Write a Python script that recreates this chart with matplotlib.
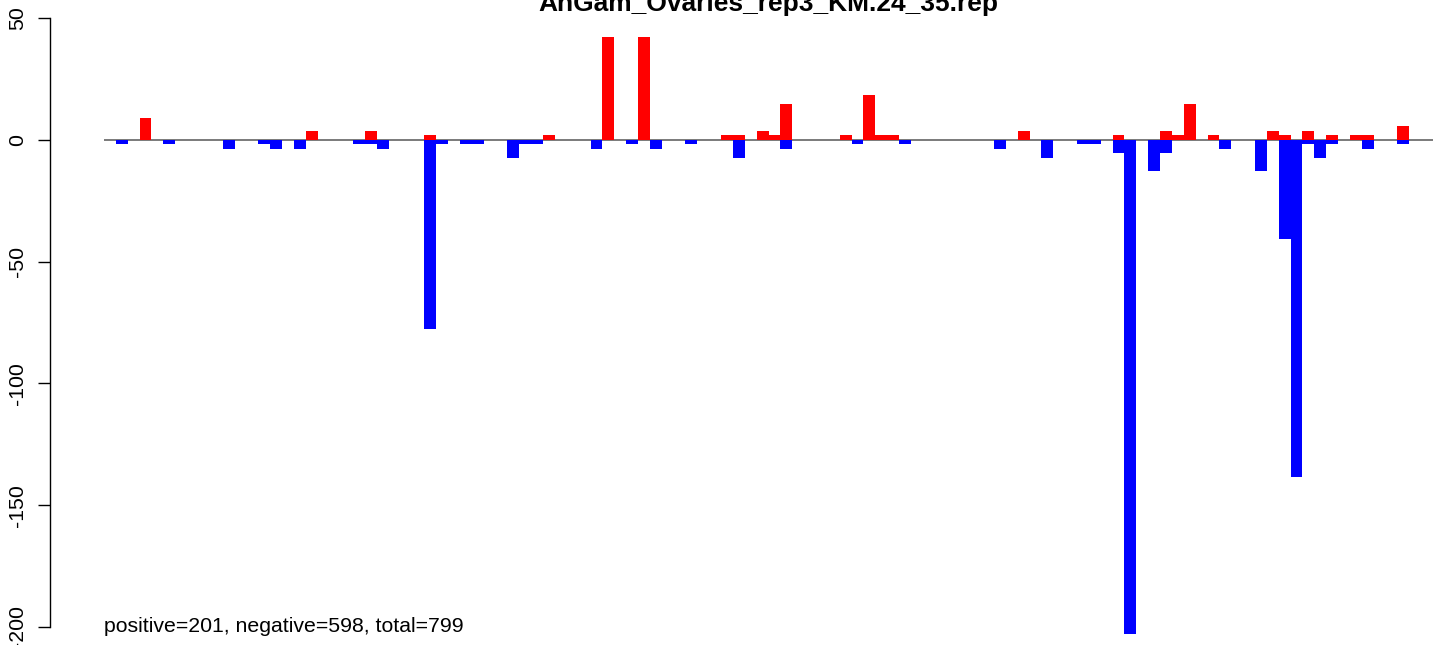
import matplotlib
matplotlib.use("Agg")
import matplotlib.pyplot as plt

plt.rcParams['font.family'] = ['Liberation Sans', 'DejaVu Sans']
plt.rcParams['axes.unicode_minus'] = False

title = "AnGam_Ovaries_rep3_KM.24_35.rep"
note = "positive=201, negative=598, total=799"

# slot index of each bar and its height
pos_idx = [2, 16, 21, 26, 36, 41, 44, 51, 52, 54, 55, 56, 61, 63, 64, 65,
           76, 84, 88, 89, 90, 92, 97, 98, 100, 102, 104, 105, 108]
pos_val = [9.1, 3.7, 3.7, 1.8, 1.8, 42.2, 42.2, 1.8, 1.8, 3.7, 1.8, 14.8, 1.8, 18.5, 1.8, 1.8,
           3.7, 1.8, 3.7, 1.8, 14.8, 1.8, 3.7, 1.8, 3.7, 1.8, 1.8, 1.8, 5.5]

neg_idx = [0, 4, 9, 12, 13, 15, 20, 21, 22, 26, 27, 29, 30, 33, 34, 35,
           40, 43, 45, 48, 52, 56, 62, 66, 74, 78, 81, 82, 84, 85, 87, 88,
           93, 96, 98, 99, 100, 101, 102, 105, 108]
neg_val = [-1.8, -1.8, -3.7, -1.8, -3.7, -3.7, -1.8, -1.8, -3.7, -77.5, -1.8, -1.8, -1.8, -7.4, -1.8, -1.8,
           -3.7, -1.8, -3.7, -1.8, -7.4, -3.7, -1.8, -1.8, -3.7, -7.4, -1.8, -1.8, -5.5, -202.8, -12.9, -5.5,
           -3.7, -12.9, -40.6, -138.6, -1.8, -7.4, -1.8, -3.7, -1.8]

yticks = [-200, -150, -100, -50, 0, 50]

fig = plt.figure(figsize=(14.49, 6.45), dpi=100)
W, H = 1449, 645
ax = fig.add_axes([104 / W, 1 - 627 / H, (1433 - 104) / W, (627 - 18) / H])

ax.axhline(0, color='#707070', lw=1.3, zorder=1)
# the deepest bar runs past the bottom of the axis, as in the original
ax.bar(pos_idx, pos_val, width=1, align='edge', color='#ff0000', lw=0, zorder=2, clip_on=False)
ax.bar(neg_idx, neg_val, width=1, align='edge', color='#0000ff', lw=0, zorder=2, clip_on=False)

ax.set_xlim(-1, 111)
ax.set_ylim(-200, 50)

for s in ['top', 'right', 'bottom']:
    ax.spines[s].set_visible(False)
ax.spines['left'].set_position(('outward', 54 * 0.72))
ax.spines['left'].set_linewidth(1.0)
ax.set_xticks([])
ax.set_yticks(yticks)
ax.set_yticklabels([str(v) for v in yticks], rotation=90, va='center', fontsize=15.3)
ax.tick_params(axis='y', length=8.6, width=1.0, pad=8)

ax.text(-1, -200, note, ha='left', va='center', fontsize=15.3)
fig.text((104 + 1433) / 2 / W, 1 - 11 / H, title, ha='center', va='baseline',
         fontsize=19, fontweight='bold')

fig.savefig("out.png", dpi=100)
